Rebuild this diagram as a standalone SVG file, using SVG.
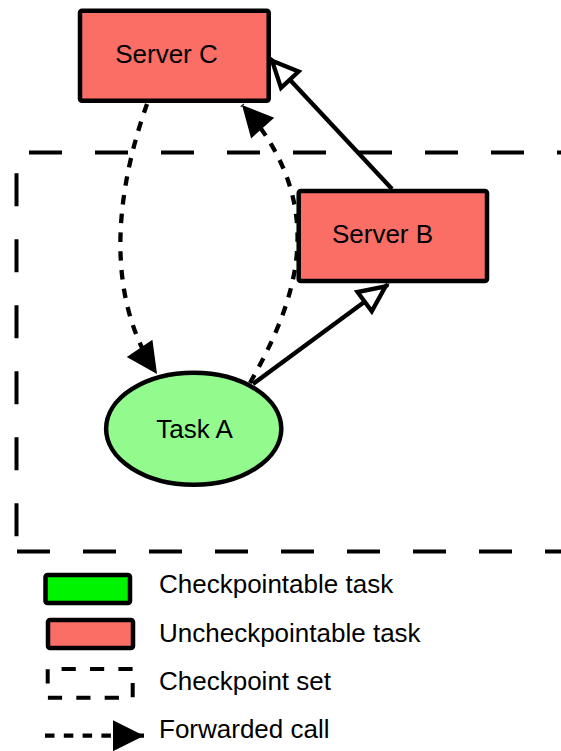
<svg xmlns="http://www.w3.org/2000/svg" width="561" height="751" viewBox="0 0 561 751">
  <style>
    .label { font-family: "Liberation Sans", Arial, sans-serif; font-size: 26px; fill: #000; }
    .server { fill: #FA6E66; stroke: #000; stroke-width: 4.5; }
    .task { fill: #93FA8E; stroke: #000; stroke-width: 4.5; }
    .setline { fill: none; stroke: #000; stroke-width: 4; stroke-dasharray: 33 33; }
    .call { fill: none; stroke: #000; stroke-width: 4.3; stroke-dasharray: 9.5 9.3; }
    .link { fill: none; stroke: #000; stroke-width: 4.3; }
  </style>
  <defs>
    <marker id="solidHead" markerUnits="userSpaceOnUse" viewBox="-34 -18 36 36" markerWidth="36" markerHeight="36" refX="0" refY="0" orient="auto">
      <path d="M0,0 L-31,-15.5 L-31,15.5 Z" fill="#000"/>
    </marker>
    <marker id="hollowHead" markerUnits="userSpaceOnUse" viewBox="-36 -20 42 40" markerWidth="42" markerHeight="40" refX="0" refY="0" orient="auto">
      <path d="M-3,0 L-29,-12 L-29,12 Z" fill="#fff" stroke="#000" stroke-width="4.3" stroke-linejoin="miter"/>
    </marker>
  </defs>

  <!-- checkpoint set boundary (runs off the right edge) -->
  <g id="checkpoint-set">
    <path class="setline" d="M29,152.5 H600"/>
    <path class="setline" d="M16.5,173.3 V540"/>
    <path class="setline" d="M17,551.5 H600"/>
  </g>

  <!-- connectors -->
  <g id="connectors">
    <path class="link" d="M392,189 L270,58.5" marker-end="url(#hollowHead)"/>
    <path class="link" d="M253,384 L388,284.5" marker-end="url(#hollowHead)"/>
    <path class="call" d="M147,104 C120,180 100,290 157,374" marker-end="url(#solidHead)"/>
    <path class="call" d="M250,383 C291,310 336,210 242,105" marker-end="url(#solidHead)"/>
  </g>

  <g id="server-c">
    <rect class="server" x="80" y="10.8" width="188.7" height="90" rx="2"/>
    <text class="label" x="166.5" y="63" text-anchor="middle">Server C</text>
  </g>

  <g id="server-b">
    <rect class="server" x="298.7" y="191" width="188.3" height="90" rx="2"/>
    <text class="label" x="382.5" y="243" text-anchor="middle">Server B</text>
  </g>

  <g id="task-a">
    <ellipse class="task" cx="193.7" cy="428.7" rx="87.6" ry="56"/>
    <text class="label" x="194.5" y="438" text-anchor="middle">Task A</text>
  </g>

  <!-- legend -->
  <g id="legend">
    <rect x="45.5" y="575" width="84.5" height="28" rx="2" fill="#00F400" stroke="#000" stroke-width="4.5"/>
    <text class="label" x="159" y="593">Checkpointable task</text>
    <rect class="server" x="48" y="620" width="85" height="28" rx="2"/>
    <text class="label" x="159" y="641.7">Uncheckpointable task</text>
    <path d="M47.7,697.7 V669 H132.7 V697.7 Z" fill="none" stroke="#000" stroke-width="4" stroke-dasharray="14.2 14.2" stroke-dashoffset="14.2"/>
    <text class="label" x="159" y="690">Checkpoint set</text>
    <path class="call" d="M45,735.7 H144" marker-end="url(#solidHead)"/>
    <text class="label" x="159" y="738.3">Forwarded call</text>
  </g>
</svg>
